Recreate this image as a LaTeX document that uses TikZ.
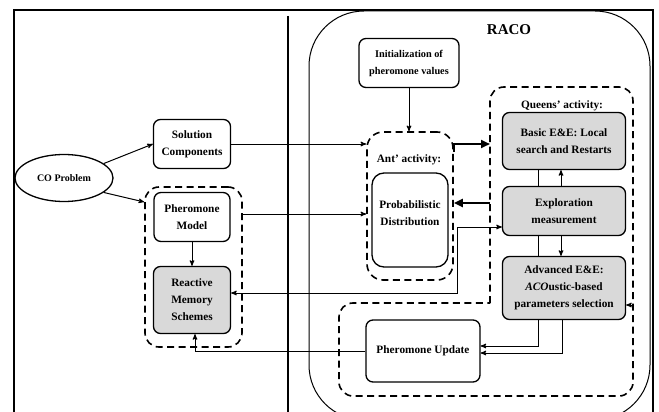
\documentclass[tikz,border=0pt]{standalone}
\usepackage{fontspec}
\setmainfont{Liberation Serif}
\tikzset{
every picture/.style={
line width=1pt
}}
\usetikzlibrary{arrows,arrows.meta,shapes.geometric}

\begin{document}
\begin{tikzpicture}[x=1pt,y=-1pt,>=stealth',
box/.style={draw,rounded corners=7pt,line width=1.3pt,align=center,inner sep=0pt,font=\bfseries\fontsize{11.3}{17}\selectfont},
shaded/.style={box,fill=black!15},
group/.style={draw,line width=1.6pt,dash pattern=on 7pt off 4.5pt,rounded corners=14pt},
caption/.style={align=center,font=\bfseries\fontsize{11.3}{17}\selectfont},
flow/.style={->,line width=1pt},
heavy/.style={-{Triangle[length=9pt,width=8pt]},line width=2.4pt}]

\useasboundingbox (0,0) rectangle (659,412);
\draw[line width=1.3pt] (14,412) -- (14,10) -- (653,10) -- (653,412);
\draw[line width=1.3pt] (288,16) -- (288,412);
\draw[line width=1pt,rounded corners=55pt] (309,420) -- (309,11) -- (650,11) -- (650,420) -- cycle;
\node[font=\bfseries\fontsize{15}{18}\selectfont] (raco) at (509,30) {RACO};

\node[draw,ellipse,line width=1.3pt,minimum width=98,minimum height=47,inner sep=0pt,caption,font=\bfseries\fontsize{10}{17}\selectfont] (co) at (64,178) {CO Problem};
\node[box,minimum width=77,minimum height=49] (sol) at (192,144) {Solution\\Components};
\node[group,minimum width=97,minimum height=160] (modelgrp) at (193.5,267) {};
\node[box,minimum width=76,minimum height=49] (model) at (192,217) {Pheromone\\Model};
\node[shaded,minimum width=77,minimum height=67] (react) at (192,300) {Reactive\\Memory\\Schemes};

\node[box,minimum width=100,minimum height=49,font=\bfseries\fontsize{10.3}{17}\selectfont] (init) at (409,63) {Initialization of\\pheromone values};
\node[group,rounded corners=16pt,minimum width=86,minimum height=148] (antgrp) at (410,206) {};
\node[caption] (antlbl) at (409,160) {Ant' activity:};
\node[box,rounded corners=12pt,minimum width=76,minimum height=94] (prob) at (410,220) {};
\node[caption] (probtxt) at ([yshift=7pt]prob.center) {Probabilistic\\Distribution};

\coordinate (q0) at (490,303);
\coordinate (qtop) at (490,87);
\draw[group] (q0) -- (qtop) -- (633,87) -- (633,396) -- (339,396) -- (339,303) -- (q0);
\node[caption] (queenlbl) at (562,106) {Queens' activity:};
\node[shaded,minimum width=123,minimum height=57] (basic) at (564,141) {Basic E\&E: Local\\search and Restarts};
\node[shaded,minimum width=123,minimum height=49] (explo) at (564,211) {Exploration\\measurement};
\node[shaded,minimum width=123,minimum height=63] (adv) at (564,288) {Advanced E\&E:\\\textit{ACO}ustic-based\\parameters selection};
\node[box,minimum width=114,minimum height=62] (upd) at (423,351) {Pheromone Update};

\draw[flow] (co.20) -- (sol.west);
\draw[flow] (co.-20) -- ([yshift=65pt]modelgrp.west);
\draw[flow] (model) -- (react);
\draw[flow] (sol.east) -- (sol.east -| antgrp.west);
\draw[flow] ([yshift=53pt]modelgrp.east) -- ([yshift=53pt]modelgrp.east -| antgrp.west);
\draw[flow] (init.south) -- (init.south |- antgrp.north);
\draw[heavy] ([yshift=54pt]antgrp.east) |- (qtop |- sol.east);
\coordinate (back) at (490,203);
\draw[heavy] (back) -- (back -| antgrp.east);
\draw[line width=1pt] ([xshift=-26pt]basic.south) -- ([xshift=-26pt]explo.north);
\draw[flow] ([xshift=-3pt]explo.north) -- ([xshift=-3pt]basic.south);
\draw[line width=1pt] ([xshift=-26pt]explo.south) -- ([xshift=-26pt]adv.north);
\draw[flow] ([xshift=-3pt]explo.south) -- ([xshift=-3pt]adv.north);
\draw[<->,line width=1pt] ([yshift=-16pt]explo.west) -- ++(-44,0) |- ([yshift=7pt]react.east);
\draw[flow] ([xshift=-26pt]adv.south) |- ([yshift=5pt]upd.east);
\draw[flow] ([xshift=-2pt]adv.south) |- ([yshift=-2pt]upd.east);
\draw[flow] (upd.west) -| ([xshift=3pt]react.south);
\draw[flow] ([xshift=8pt,yshift=-17pt]adv.east) -- ([yshift=-17pt]adv.east);
\end{tikzpicture}
\end{document}
